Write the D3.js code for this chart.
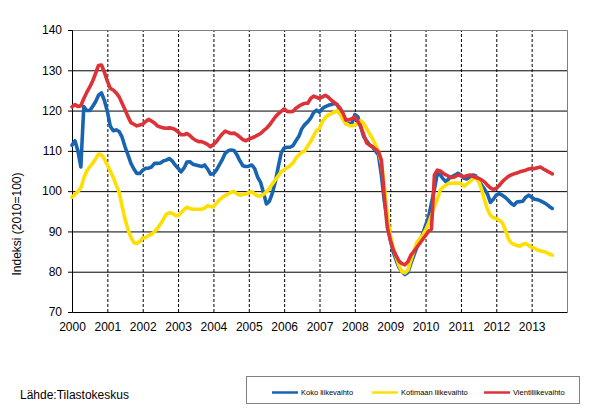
<!DOCTYPE html>
<html>
<head>
<meta charset="utf-8">
<script src="https://cdn.jsdelivr.net/npm/d3@7"></script>
<style>
  body { margin: 0; background: #fff; }
  text { font-family: "Liberation Sans", Arial, sans-serif; }
</style>
</head>
<body>
<svg width="592" height="415"></svg>
<script>
// monthly index values, Jan 2000 .. Aug 2013
var koko = [
  111.4, 112.5, 110, 106, 121, 120, 120, 121, 122.2, 123.8, 124.4, 122.5,
  119.8, 116.1, 115, 115.2, 114.8, 113.4, 111, 109, 106.9, 105.5, 104.4, 104.4,
  105.2, 105.7, 105.7, 106, 106.9, 106.9, 107, 107.5, 107.7, 108.1, 107.5, 106.5,
  105.7, 104.8, 105.7, 107.2, 107.3, 106.7, 106.5, 106.3, 106.1, 106.5, 105.5, 104.2,
  104.3, 105.2, 106.5, 107.8, 109.4, 110, 110.2, 110.1, 109, 107.5, 106.3, 106.1,
  106.2, 106.5, 105.6, 103.5, 102.2, 99.6, 96.8, 97.5, 99.5, 102.3, 106, 109.5,
  110.7, 110.9, 110.9, 111.3, 112.5, 113.6, 115.5, 116.5, 117.2, 118.1, 119.5, 120.1,
  119.6, 120.5, 121, 121.3, 121.5, 121.8, 121.5, 120, 118, 116.8, 116.8, 116.8,
  119, 118.5, 116, 113.5, 112.5, 111.5, 111, 110, 109, 104, 97.5, 93,
  88, 85, 82.9, 81, 80, 79.3, 79.8, 82, 84, 86, 87.5, 89.3,
  91.5, 93.5, 97, 100.5, 104.4, 104, 103, 102.3, 103.2, 103.6, 104, 104.4,
  104, 103.2, 103, 103.5, 104, 103.8, 102.5, 101.5, 100.5, 99.3, 97.2, 98,
  99, 99.4, 99, 98.5, 97.8, 97, 96.5, 97.3, 97.4, 97.5, 98.5, 99,
  98.5, 98, 97.9, 97.6, 97.2, 96.8, 96.2, 95.7
];
var kotimaa = [
  98.5, 99.2, 99.9, 100.8, 103.2, 105, 106, 106.9, 108, 109.2, 109, 108,
  106.5, 105, 103.4, 101.5, 99.8, 96.3, 93, 90.5, 88.5, 87.2, 87, 87.5,
  88.3, 88.5, 89, 89.3, 90, 90.8, 91.8, 93, 94.3, 94.6, 94.5, 94,
  93.9, 94.6, 95.4, 96, 95.7, 95.5, 95.5, 95.5, 95.5, 95.8, 96.4, 96.2,
  96.1, 97, 97.8, 98.4, 98.9, 99.3, 99.7, 99.9, 99.3, 99, 99.2, 99.3,
  99.6, 99.9, 99.3, 98.8, 98.8, 99.2, 99.8, 100.7, 101.8, 102.8, 103.8, 104.8,
  105.3, 105.8, 106.3, 107, 108.2, 109, 109.6, 110, 111.2, 112.3, 113.7, 115,
  115.6, 117.2, 118.3, 118.9, 119.2, 119.6, 120, 119, 117.8, 116.8, 116.3, 116.2,
  116.4, 117, 117.5, 116.8, 115.5, 114.2, 113, 111.5, 109.8, 107, 101.5, 94,
  89, 86, 83.7, 81.5, 80, 79.7, 80.4, 82.8, 85, 87.2, 88.2, 89,
  90.3, 92, 94, 96.2, 98, 100.3, 101, 101.5, 102, 101.9, 102, 102,
  101.9, 101.2, 101.8, 102.3, 103, 103.4, 102.5, 100.5, 97.8, 95.5, 94, 93.4,
  93.2, 92.8, 92.2, 90.5, 88.3, 87.2, 86.8, 86.5, 86.3, 86.8, 87, 86.5,
  86, 85.8, 85.4, 85.2, 85, 84.8, 84.4, 84.1
];
var vienti = [
  120.9, 121.5, 121, 121.2, 123, 124.5, 125.8, 127.3, 129.2, 131.2, 131.3, 129.5,
  127.3, 125.5, 125.1, 124.4, 123.4, 121.8, 120.2, 118.5, 117, 116.6, 116.2, 116.4,
  116.6, 117.3, 117.8, 117.4, 116.9, 116.2, 115.9, 115.7, 115.6, 115.7, 115.6, 115.3,
  114.7, 114, 114, 114.3, 113.8, 113.1, 112.6, 112.3, 112.3, 112, 111.6, 111,
  111.6, 112.3, 113.3, 114.2, 114.9, 114.6, 114.3, 114.4, 114, 113.4, 112.8, 112.5,
  112.9, 113.2, 113.5, 113.9, 114.3, 115, 115.6, 116.4, 117.4, 118.4, 119.2, 119.8,
  120.4, 119.8, 119.7, 119.8, 120.6, 121.1, 121.5, 121.8, 121.8, 123, 123.6, 123.3,
  123, 123.4, 123.8, 123.3, 122.6, 122, 121.4, 120.6, 119.3, 117.6, 117.7, 118,
  118.5, 117.3, 116, 114, 112, 111.4, 111, 110.4, 109.8, 107.7, 98.6, 91,
  88, 85.5, 84, 82.6, 82, 81.7, 82.5, 84.1, 85, 86, 87, 88,
  89, 90, 90.6, 104, 105.2, 105, 104.4, 104, 103.6, 103.4, 103.6, 104,
  103.8, 103.6, 103.8, 104, 103.7, 103.4, 103.2, 102.8, 102.3, 101.5, 100.8, 100.4,
  100.7, 101.4, 102.3, 103, 103.6, 104, 104.3, 104.5, 104.8, 105, 105.2, 105.5,
  105.6, 105.6, 105.8, 106, 105.5, 105.1, 104.7, 104.3
];
var seriesNames = ["Koko liikevaihto", "Kotimaan liikevaihto", "Vientiliikevaihto"];
var seriesColors = ["#1864b0", "#ffde00", "#dd3237"];
var years = d3.range(2000, 2014);
var yTicks = d3.range(70, 141, 10);
var startYear = 2000;

var svg = d3.select("svg");
var pLeft = 72, pRight = 567, pTop = 30, pBottom = 312;

var x = d3.scaleLinear().domain([2000, 2014]).range([pLeft, pRight]);
var y = d3.scaleLinear().domain([70, 140]).range([pBottom, pTop]);

// horizontal grid
svg.append("g")
  .attr("transform", "translate(" + pLeft + ",0)")
  .call(d3.axisLeft(y).tickValues(yTicks.slice(1, -1)).tickSize(-(pRight - pLeft)).tickFormat(""))
  .call(g => g.select(".domain").remove())
  .selectAll("line").attr("stroke", "#000").attr("stroke-width", 1);

// vertical dashed year lines
svg.append("g")
  .attr("transform", "translate(0," + pBottom + ")")
  .call(d3.axisBottom(x).tickValues(years.slice(1)).tickSize(-(pBottom - pTop)).tickFormat(""))
  .call(g => g.select(".domain").remove())
  .selectAll("line").attr("stroke", "#000").attr("stroke-dasharray", "3,2");

// plot frame (top / right grey)
svg.append("path")
  .attr("d", "M" + pLeft + "," + (pTop + 0.5) + "H" + (pRight + 0.5) + "V" + pBottom)
  .attr("fill", "none").attr("stroke", "#808080");

// y axis
var yAxis = svg.append("g")
  .attr("transform", "translate(" + pLeft + ",0)")
  .call(d3.axisLeft(y).tickValues(yTicks).tickSize(4).tickPadding(6));
yAxis.select(".domain").attr("stroke", "#000");
yAxis.selectAll("text").attr("font-size", 12).attr("fill", "#000");

// x axis
var xAxis = svg.append("g")
  .attr("transform", "translate(0," + pBottom + ")")
  .call(d3.axisBottom(x).tickValues(years).tickSize(0).tickPadding(10).tickFormat(d3.format("d")));
xAxis.select(".domain").attr("stroke", "#000");
xAxis.selectAll("text").attr("font-size", 12).attr("fill", "#000");

svg.append("text")
  .attr("transform", "translate(21,224) rotate(-90)")
  .attr("text-anchor", "middle")
  .attr("font-size", 12)
  .text("Indeksi (2010=100)");

// series lines
var line = d3.line()
  .x((d, i) => x(startYear + i / 12))
  .y(d => y(d));

[koko, kotimaa, vienti].forEach(function(s, i) {
  svg.append("path")
    .datum(s)
    .attr("d", line)
    .attr("fill", "none")
    .attr("stroke", seriesColors[i])
    .attr("stroke-width", 3.6)
    .attr("stroke-linejoin", "round")
    .attr("stroke-linecap", "round");
});

svg.append("text")
  .attr("x", 20).attr("y", 399)
  .attr("font-size", 12)
  .text("Lähde:Tilastokeskus");

// legend
var legend = svg.append("g");
legend.append("rect")
  .attr("x", 246.5).attr("y", 376.5).attr("width", 333).attr("height", 27)
  .attr("fill", "#fff").attr("stroke", "#808080");
var legendX = [272, 372, 484];
seriesNames.forEach(function(name, i) {
  legend.append("line")
    .attr("x1", legendX[i]).attr("x2", legendX[i] + 26)
    .attr("y1", 392.5).attr("y2", 392.5)
    .attr("stroke", seriesColors[i]).attr("stroke-width", 2.5);
  legend.append("text")
    .attr("x", legendX[i] + 29).attr("y", 395)
    .attr("font-size", 7.5)
    .text(name);
});
</script>
</body>
</html>
